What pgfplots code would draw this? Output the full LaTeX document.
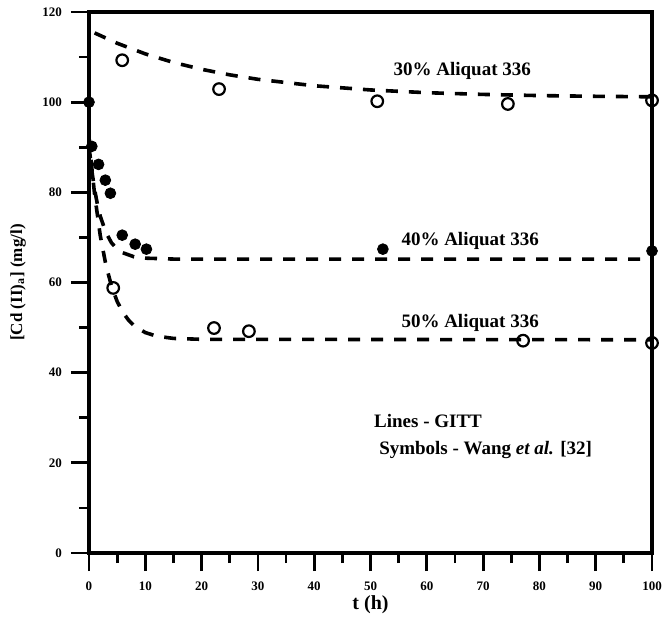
\documentclass[border=0pt]{standalone}
\usepackage{pgfplots}
\pgfplotsset{compat=1.18}
\usepackage{fontspec}
\setmainfont{Liberation Serif}
\begin{document}
\begin{tikzpicture}
\begin{axis}[
  name=ax,
  scale only axis,
  width=281.5pt, height=270.5pt,
  xmin=0, xmax=100, ymin=0, ymax=120,
  xtick={0,10,...,100}, ytick={0,20,...,120},
  minor x tick num=1, minor y tick num=1,
  xtick pos=bottom, ytick pos=left,
  tick align=outside,
  major tick length=9pt, minor tick length=5pt,
  every tick/.style={black, line width=1.4pt},
  axis line style={line width=1.6pt},
  clip=false,
  /pgf/number format/assume math mode=true,
  tick label style={font=\fontsize{6.5}{7}\selectfont\bfseries},
  xticklabel style={yshift=-2pt},
  yticklabel style={xshift=-1pt},
  xlabel={t (h)},
  ylabel={[Cd (II)\textsubscript{a}] (mg/l)},
  xlabel style={font=\fontsize{10}{12}\selectfont\bfseries, at={(rel axis cs:0.5,0)}, anchor=center, yshift=-26pt},
  ylabel style={font=\fontsize{8.5}{10}\selectfont\bfseries, at={(rel axis cs:0,0.5)}, anchor=center, yshift=35.5pt},
  gitt/.style={black, line width=1.8pt, dash pattern=on 6pt off 5.5pt},
  open/.style={only marks, mark=o, mark size=2.9pt, mark options={line width=1.1pt, fill=white}},
]
% GITT model curves
\addplot[gitt] coordinates {
  (1,115.36) (5,113.07) (10,110.71) (15,108.81) (20,107.29) (25,106.06)
  (30,105.07) (40,103.64) (50,102.71) (60,102.10) (70,101.72) (80,101.46)
  (90,101.30) (100,101.19)
};
\addplot[gitt] coordinates {
  (0,90.2) (0.5,84.8) (1,80.6) (1.5,77.3) (2,74.7) (3,71.1) (4,68.8)
  (5,67.4) (6,66.6) (8,65.7) (10,65.4) (15,65.2) (100,65.2)
};
\addplot[gitt] coordinates {
  (0,92.3) (0.5,85.4) (1,79.5) (2,70.4) (3,63.9) (4,59.2) (5,55.8)
  (6,53.4) (7,51.7) (8,50.4) (10,48.9) (12,48.1) (15,47.6) (20,47.4)
  (100,47.3)
};
% Wang et al. data
\addplot[open] coordinates {
  (5.9,109.3) (23.1,102.9) (51.2,100.2) (74.4,99.6) (100,100.4)
};
\addplot[only marks, mark=*, mark size=2.7pt, mark options={black}] coordinates {
  (0,100) (0.5,90.2) (1.7,86.2) (2.9,82.7) (3.8,79.8) (5.9,70.5)
  (8.2,68.5) (10.2,67.4) (52.2,67.4) (100,67)
};
\addplot[open] coordinates {
  (4.3,58.8) (22.2,49.9) (28.4,49.2) (77.1,47.1) (100,46.6)
};
\node[font=\fontsize{9.5}{11}\selectfont\bfseries] at (axis cs:66.3,106.9) {30\% Aliquat 336};
\node[font=\fontsize{9.5}{11}\selectfont\bfseries] at (axis cs:67.7,69.2) {40\% Aliquat 336};
\node[font=\fontsize{9.5}{11}\selectfont\bfseries] at (axis cs:67.7,51) {50\% Aliquat 336};
\node[font=\fontsize{9.5}{11}\selectfont\bfseries, anchor=west] at (axis cs:49.4,29.3) {Lines - GITT};
\node[font=\fontsize{9.5}{11}\selectfont\bfseries, anchor=west] at (axis cs:50.3,22.8) {Symbols - Wang \textit{et al.} [32]};
\end{axis}
\pgfresetboundingbox
\path ([xshift=-44.5pt,yshift=-34.5pt]ax.south west) rectangle ([xshift=5pt,yshift=6pt]ax.north east);
\end{tikzpicture}
\end{document}
